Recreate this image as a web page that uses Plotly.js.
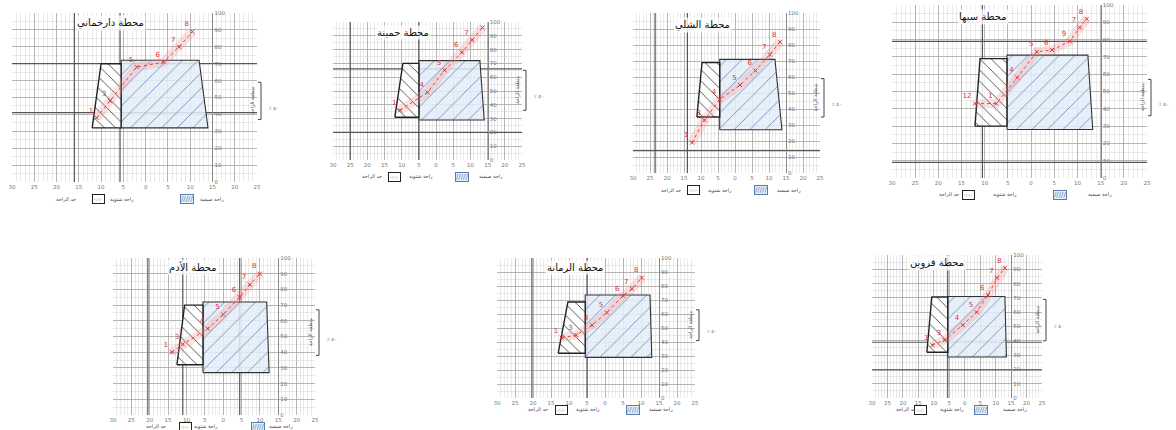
<!DOCTYPE html>
<html><head><meta charset="utf-8">
<script src="https://cdn.plot.ly/plotly-3.0.1.min.js"></script>
<style>html,body{margin:0;padding:0;background:#fff}#chart{width:1176px;height:430px}</style>
</head><body><div id="chart"></div>
<script>
// ---------------- data ----------------
const stationNames = ['محطة دارخماني','محطة حمينة','محطة الشلي','محطة سبها','محطة الأدم','محطة الرمانة','محطة قزوين'];
const xTickVals = [0,10,20,30,40,50,60,70,80,90,100,110];
const xTickLabels = ['30','25','20','15','10','5','0','5','10','15','20','25'];
const yTickVals = [0,10,20,30,40,50,60,70,80,90,100];

const blackX = [[36,40,49,49],[36,40.7,50,50],[37.6,40.6,51,51],[35.8,38,49.6,49.6],[34.8,39,49,49],[34,39.4,49,49],[35.5,38.7,49,49]];
const blackY = [[32,70,70,32],[31,70,70,31],[35,69,69,35],[30,69,69,30],[32,70,70,32],[32,68.6,68.6,32],[32,70.6,70.6,32]];
const blueX  = [[49,49,84,88],[50,50,85.5,88],[51,51,83.5,87.6],[49.6,49.6,84.5,86.6],[49,49,83.7,85],[49,49,85,86],[49,49,86,87]];
const blueY  = [[32,72,72,32],[29,72,72,29],[27,71,71,27],[28,71,71,28],[27,72,72,27],[29,73.6,73.6,29],[28.7,71,71,28.7]];

const redX = [[38,44,56,68,75,81],[39,55,65,75,81,87],[34.7,42,51,63,72,80.5,86.5],[35.8,45,54,62.5,69,76.7,81,84],[32,38,51.6,60,69,74.5,80],[36,44,52.8,61,70,75,80.5],[39,47,58.7,67.7,75,81,86]];
const redY = [[38,48,68,71,80,89],[36,49,65,78,87,96],[19,33,46,55,64,74,82],[43,43,58,73,74,79,87,92],[40,45,55,64,75,83,90],[43,45,52,61,73,78,86],[37,40.5,51,60,72,84,91]];
const redText = [['1','3','5','6','7','8'],['1','4','5','6','7','8'],['1','3','4','5','6','7','8'],['12','1','4','5','6','9','7','8'],['1','3','4','5','6','7','8'],['1','3','4','5','6','7','8'],['1','3','4','5','6','7','8']];

const boldH = [[70,41],[66,20],[14],[79,9],[],[],[39,19.6]];
const boldV = [[28,48.5],[10,50],[13,32],[39],[19,38,69],[19.4,50],[49]];
const bracketLo = [37,36,35,36,38,41,40];
const bracketHi = [59,65,59,57,67,63,69];

const legendA = 'حد الراحة';
const legendB = 'راحة شتوية';
const legendC = 'راحة صيفية';
const sideLabel = 'منطقة الراحة';

// ---------------- layout geometry (pixels) ----------------
const W = 1176, H = 430;
const frames = [
  {l:12, r:257, t:13, b:182, tx:110, ty:23},
  {l:333,r:522, t:22, b:160, tx:403, ty:32},
  {l:633,r:820, t:13, b:173, tx:702, ty:25},
  {l:892,r:1147,t:5,  b:178, tx:983, ty:17},
  {l:113,r:315, t:258,b:415, tx:193, ty:267},
  {l:497,r:695, t:258,b:398, tx:575, ty:267},
  {l:872,r:1042,t:255,b:398, tx:937, ty:263}
];
const F = 'DejaVu Sans, Noto Sans, sans-serif';
const px = v => v / W, py = v => 1 - v / H;

const data = [], shapes = [], annotations = [];
const layout = {width:W, height:H, margin:{l:0,r:0,t:0,b:0}, paper_bgcolor:'#fff', plot_bgcolor:'#fff', showlegend:false, font:{family:F}};

const close = a => a.concat([a[0]]);
const XR = [0,110], YR = [0,100];

for (let i = 0; i < 7; i++) {
  const n = i + 1, sfx = n === 1 ? '' : String(n);
  const xa = 'x' + sfx, ya = 'y' + sfx;
  const fr = frames[i];

  layout['xaxis' + sfx] = {
    domain:[px(fr.l), px(fr.r)], range:XR, anchor: ya,
    tickvals: xTickVals, ticktext: xTickLabels, tickfont:{size:5.5, color:'#777'},
    ticks:'', showline:false, zeroline:false, fixedrange:true,
    showgrid:true, gridcolor:'#a0a0a0', gridwidth:0.7,
    minor:{dtick:2, showgrid:true, gridcolor:'#d6d6d6', gridwidth:0.5}
  };
  layout['yaxis' + sfx] = {
    domain:[py(fr.b), py(fr.t)], range:YR, anchor:'free', side:'right',
    position: px(fr.l + 9/11*(fr.r - fr.l)),
    tickvals: yTickVals, tickfont:{size:5.5, color:'#777'},
    ticks:'', showline:true, linecolor:'#888', linewidth:1, zeroline:false, fixedrange:true,
    showgrid:true, gridcolor:'#a0a0a0', gridwidth:0.7,
    minor:{dtick:5, showgrid:true, gridcolor:'#d6d6d6', gridwidth:0.5}
  };

  // bold reference lines (drawn as traces so they sit above the grid)
  boldH[i].forEach(v => data.push({type:'scatter', xaxis:xa, yaxis:ya, x:XR, y:[v, v], mode:'lines', line:{color:'#555', width:1.2}, hoverinfo:'skip'}));
  boldV[i].forEach(v => data.push({type:'scatter', xaxis:xa, yaxis:ya, x:[v, v], y:YR, mode:'lines', line:{color:'#555', width:1.2}, hoverinfo:'skip'}));

  // zones
  data.push({type:'scatter', xaxis:xa, yaxis:ya, x:close(blueX[i]), y:close(blueY[i]), mode:'lines', fill:'toself',
    fillcolor:'#e8f0f8', fillpattern:{shape:'/', fgcolor:'#6f8fbd', bgcolor:'rgba(228,238,248,0.85)', size:11, solidity:0.08},
    line:{color:'#333', width:1.1}, hoverinfo:'skip'});
  data.push({type:'scatter', xaxis:xa, yaxis:ya, x:close(blackX[i]), y:close(blackY[i]), mode:'lines', fill:'toself',
    fillcolor:'#ffffff', fillpattern:{shape:'\\', fgcolor:'#333', bgcolor:'rgba(255,255,255,0.88)', size:8, solidity:0.1},
    line:{color:'#222', width:1.4}, hoverinfo:'skip'});

  // monthly climate points
  data.push({type:'scatter', xaxis:xa, yaxis:ya, x:redX[i], y:redY[i], mode:'lines',
    line:{color:'rgba(240,140,140,0.25)', width:9}, hoverinfo:'skip'});
  data.push({type:'scatter', xaxis:xa, yaxis:ya, x:redX[i], y:redY[i], mode:'lines+markers+text',
    text: redText[i], textposition:'top left', textfont:{size:7, color:'#dd3333', family:F},
    line:{color:'#e04444', width:1, dash:'dot'}, marker:{color:'#dd3333', size:4, symbol:'x-thin', line:{color:'#dd3333', width:1}}});

  // title
  annotations.push({xref:'paper', yref:'paper', x:px(fr.tx), y:py(fr.ty), text:stationNames[i], showarrow:false,
    font:{size:10, color:'#111', family:F}, bgcolor:'rgba(255,255,255,0.8)', xanchor:'center', yanchor:'middle'});

  // side bracket
  const bx = px(fr.r + 4);
  shapes.push({type:'line', xref:'paper', x0:bx, x1:bx, yref:ya, y0:bracketLo[i], y1:bracketHi[i], line:{color:'#444', width:1}});
  [bracketLo[i], bracketHi[i]].forEach(v => shapes.push({type:'line', xref:'paper', x0:bx, x1:px(fr.r + 1), yref:ya, y0:v, y1:v, line:{color:'#444', width:1}}));
  annotations.push({xref:'paper', yref:ya, x:px(fr.r + 1), y:(bracketLo[i] + bracketHi[i]) / 2, text:sideLabel, showarrow:false,
    textangle:-90, font:{size:5, color:'#555', family:F}, xanchor:'right'});
  annotations.push({xref:'paper', yref:ya, x:px(fr.r + 10), y:(bracketLo[i] + bracketHi[i]) / 2 - 4, text:'٪ ٥٠', showarrow:false,
    font:{size:5, color:'#666', family:F}, xanchor:'left'});

  // legend row
  const w = fr.r - fr.l, ly = py(fr.b + 17);
  const at = f => px(fr.l + f * w);
  annotations.push({xref:'paper', yref:'paper', x:at(0.27), y:ly, xanchor:'right', text:legendA, showarrow:false, font:{size:5, color:'#444', family:F}});
  annotations.push({xref:'paper', yref:'paper', x:at(0.325), y:ly, text:'·:·:·', showarrow:false, font:{size:5, color:'#222'},
    bordercolor:'#222', borderwidth:1, bgcolor:'#fff', borderpad:1});
  annotations.push({xref:'paper', yref:'paper', x:at(0.39), y:ly, xanchor:'left', text:legendB, showarrow:false, font:{size:5, color:'#444', family:F}});
  annotations.push({xref:'paper', yref:'paper', x:at(0.685), y:ly, text:'/////', showarrow:false, font:{size:7, color:'#5a7db0'},
    bordercolor:'#5a7db0', borderwidth:1, bgcolor:'#e4eef8', borderpad:0});
  annotations.push({xref:'paper', yref:'paper', x:at(0.76), y:ly, xanchor:'left', text:legendC, showarrow:false, font:{size:5, color:'#444', family:F}});
}

layout.shapes = shapes;
layout.annotations = annotations;
Plotly.newPlot('chart', data, layout, {staticPlot:true, displayModeBar:false});
</script>
</body></html>
